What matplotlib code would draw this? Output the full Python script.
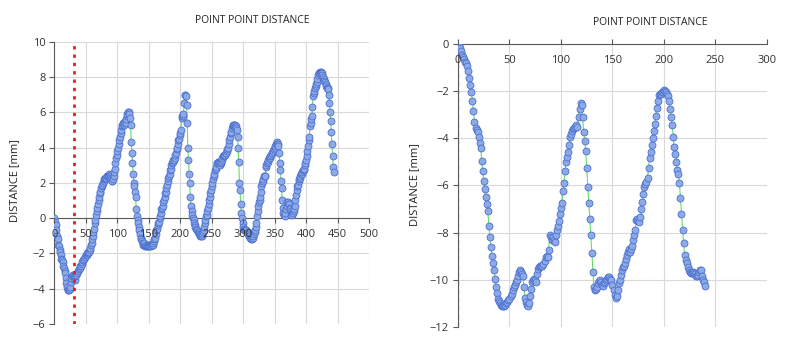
import numpy as np
import matplotlib.pyplot as plt

# dati: un punto per ogni indice
dist_sx = [
    0.0, -0.2, -0.4, -0.7, -1.0, -1.2, -1.5, -1.6, -1.8, -1.9,
    -2.1, -2.3, -2.4, -2.5, -2.7, -2.8, -3.0, -3.1, -3.4, -3.7,
    -3.9, -4.1, -4.1, -4.1, -4.0, -3.9, -3.6, -3.4, -3.3, -3.2,
    -3.2, -3.3, -3.5, -3.3, -3.2, -3.2, -3.1, -3.0, -3.0, -2.9,
    -2.8, -2.7, -2.7, -2.6, -2.5, -2.4, -2.4, -2.3, -2.2, -2.2,
    -2.1, -2.1, -2.0, -2.0, -1.9, -1.9, -1.8, -1.7, -1.5, -1.4,
    -1.2, -1.0, -0.8, -0.6, -0.3, -0.1, 0.2, 0.4, 0.6, 0.8,
    1.0, 1.2, 1.4, 1.5, 1.7, 1.8, 1.9, 2.0, 2.1, 2.2,
    2.2, 2.3, 2.3, 2.4, 2.4, 2.4, 2.5, 2.4, 2.4, 2.3,
    2.2, 2.1, 2.1, 2.2, 2.4, 2.6, 2.8, 3.1, 3.4, 3.6,
    3.8, 4.0, 4.2, 4.4, 4.6, 4.8, 5.0, 5.2, 5.3, 5.4,
    5.3, 5.4, 5.5, 5.4, 5.6, 5.8, 5.9, 6.0, 6.0, 5.9,
    5.7, 5.3, 4.3, 3.7, 3.1, 2.5, 2.0, 1.8, 1.5, 1.2,
    0.5, 0.1, -0.1, -0.3, -0.5, -0.7, -0.9, -1.1, -1.2, -1.3,
    -1.4, -1.5, -1.5, -1.4, -1.6, -1.6, -1.5, -1.6, -1.5, -1.6,
    -1.5, -1.6, -1.6, -1.5, -1.6, -1.5, -1.5, -1.4, -1.3, -1.2,
    -1.1, -0.9, -0.7, -0.6, -0.4, -0.3, -0.2, 0.0, 0.1, 0.3,
    0.5, 0.6, 0.7, 0.9, 1.0, 1.2, 1.4, 1.5, 1.7, 1.9,
    2.1, 2.3, 2.4, 2.5, 2.7, 2.8, 3.0, 3.1, 3.2, 3.3,
    3.3, 3.4, 3.6, 3.7, 3.9, 4.0, 4.2, 4.4, 4.5, 4.7,
    4.8, 5.0, 5.7, 5.8, 5.8, 5.9, 6.5, 7.0, 7.0, 6.9,
    6.4, 5.4, 4.0, 3.3, 2.5, 2.0, 1.2, 0.7, 0.4, 0.2,
    0.0, -0.1, -0.3, -0.4, -0.5, -0.6, -0.7, -0.7, -0.8, -0.8,
    -0.9, -0.9, -1.0, -1.0, -1.0, -0.9, -0.8, -0.7, -0.5, -0.3,
    -0.1, 0.1, 0.2, 0.4, 0.6, 0.8, 1.0, 1.2, 1.4, 1.6,
    1.8, 2.0, 2.2, 2.4, 2.5, 2.7, 2.8, 2.9, 3.1, 3.1,
    3.2, 3.2, 3.1, 3.0, 3.1, 3.2, 3.3, 3.4, 3.5, 3.5,
    3.6, 3.6, 3.7, 3.7, 3.8, 3.9, 4.0, 4.2, 4.4, 4.6,
    4.8, 4.9, 5.1, 5.2, 5.3, 5.3, 5.3, 5.3, 5.2, 5.1,
    5.0, 4.6, 4.0, 3.2, 2.0, 1.6, 0.8, 0.3, 0.0, -0.3,
    -0.5, -0.6, -0.7, -0.7, -0.7, -0.7, -0.8, -0.8, -0.9, -1.0,
    -1.0, -1.1, -1.1, -1.2, -1.2, -1.1, -1.0, -0.9, -0.8, -0.7,
    -0.5, -0.3, 0.1, 0.4, 0.7, 0.9, 1.0, 1.2, 1.5, 1.8,
    2.0, 2.1, 2.2, 2.4, 2.4, 2.4, 2.9, 3.0, 3.1, 3.2,
    3.3, 3.4, 3.4, 3.5, 3.6, 3.7, 3.7, 3.8, 3.8, 3.9,
    4.0, 4.1, 4.2, 4.3, 4.2, 4.2, 4.1, 3.7, 3.1, 2.7,
    2.1, 1.7, 1.0, 0.6, 0.3, 0.2, 0.1, 0.3, 0.5, 0.7,
    0.9, 0.9, 0.8, 0.8, 0.6, 0.5, 0.4, 0.3, 0.2, 0.3,
    0.4, 0.5, 0.7, 1.0, 1.3, 1.6, 1.8, 1.9, 2.1, 2.2,
    2.3, 2.4, 2.5, 2.5, 2.6, 2.7, 2.7, 2.8, 3.0, 3.1,
    3.3, 3.5, 3.8, 4.1, 4.4, 4.6, 5.2, 5.4, 5.6, 5.8,
    6.3, 6.9, 7.1, 7.2, 7.4, 7.5, 7.6, 7.7, 7.9, 8.1,
    8.2, 8.2, 8.3, 8.3, 8.2, 8.2, 8.1, 8.0, 7.9, 7.8,
    7.7, 7.6, 7.5, 7.4, 7.4, 7.3, 7.0, 6.5, 6.0, 5.5,
    4.9, 4.2, 3.5, 2.9, 2.6,
]

dist_dx = [
    0.0, -0.05, -0.15, -0.3, -0.45, -0.55, -0.65, -0.75, -0.8, -0.95,
    -1.15, -1.45, -1.75, -2.05, -2.4, -2.85, -3.3, -3.55, -3.65, -3.75,
    -3.95, -4.2, -4.4, -4.95, -5.4, -5.8, -6.15, -6.5, -6.8, -7.1,
    -7.7, -8.2, -8.6, -9.0, -9.3, -9.6, -9.95, -10.3, -10.55, -10.8,
    -10.9, -11.0, -11.05, -11.1, -11.1, -11.1, -11.05, -11.0, -10.95, -10.85,
    -10.8, -10.7, -10.6, -10.45, -10.3, -10.2, -10.1, -10.0, -9.85, -9.65,
    -9.6, -9.65, -9.75, -9.85, -10.3, -10.75, -10.95, -11.05, -11.1, -11.0,
    -10.7, -10.4, -10.1, -10.0, -9.95, -10.0, -10.1, -9.75, -9.55, -9.45,
    -9.4, -9.4, -9.4, -9.35, -9.2, -9.05, -9.0, -9.05, -8.75, -8.1,
    -8.2, -8.3, -8.2, -8.3, -8.4, -8.1, -7.9, -7.7, -7.5, -7.2,
    -6.95, -6.75, -6.25, -5.9, -5.4, -5.0, -4.8, -4.6, -4.3, -3.95,
    -3.8, -3.7, -3.6, -3.55, -3.5, -3.45, -3.5, -3.1, -2.75, -2.5,
    -2.6, -3.1, -3.75, -4.1, -4.55, -5.25, -6.05, -6.75, -7.4, -8.1,
    -8.85, -9.65, -10.3, -10.45, -10.4, -10.3, -10.15, -10.05, -10.0, -10.1,
    -10.2, -10.25, -10.15, -10.1, -10.0, -9.95, -9.9, -9.9, -9.95, -10.0,
    -10.2, -10.45, -10.65, -10.75, -10.7, -10.45, -10.15, -10.0, -9.8, -9.6,
    -9.45, -9.4, -9.3, -9.1, -8.95, -8.8, -8.7, -8.8, -8.7, -8.55,
    -8.3, -8.1, -7.9, -7.45, -7.4, -7.5, -7.55, -7.35, -7.0, -6.7,
    -6.35, -6.05, -5.95, -5.85, -5.7, -5.25, -4.85, -4.6, -4.3, -4.0,
    -3.7, -3.4, -3.05, -2.7, -2.4, -2.15, -2.1, -2.1, -2.05, -2.05,
    -1.95, -2.0, -2.05, -2.1, -2.2, -2.4, -2.75, -3.1, -3.45, -3.95,
    -4.35, -4.65, -5.0, -5.35, -5.5, -5.9, -6.55, -7.2, -7.9, -8.45,
    -8.95, -9.15, -9.3, -9.45, -9.6, -9.65, -9.7, -9.7, -9.65, -9.7,
    -9.75, -9.85, -9.85, -9.8, -9.65, -9.6, -9.6, -9.85, -10.0, -10.1,
    -10.25,
]

linea_rossa_sx = 31
linea_rossa_dx = 0
titolo = 'POINT POINT DISTANCE'
etichetta_y = 'DISTANCE [mm]'

plt.rcParams['font.family'] = ['Open Sans', 'DejaVu Sans']

fig = plt.figure(figsize=(7.86, 3.53), dpi=100)
ax1 = fig.add_axes([0.0693, 0.0822, 0.4002, 0.7997])
ax2 = fig.add_axes([0.5827, 0.0737, 0.3931, 0.8017])

col_griglia = '#d9d9d9'
col_assi = '#595959'


def disegna(ax, y, xlim, ylim, xstep, ystep, tick_su):
    x = np.arange(len(y))
    ax.plot(x, y, '-', color='#66dd66', lw=0.8, zorder=2)
    ax.plot(x, y, 'o', ms=5, mfc='#8eaae6', mec='#4a6fcf', mew=0.6, zorder=3)
    ax.set_xlim(*xlim)
    ax.set_ylim(*ylim)
    xt = np.arange(xlim[0], xlim[1] + 1, xstep)
    yt = np.arange(ylim[0], ylim[1] + 1, ystep)
    ax.set_xticks(xt)
    ax.set_yticks(yt)
    # griglia sotto i punti, etichette sopra
    for v in xt:
        ax.axvline(v, color=col_griglia, lw=0.8, zorder=0)
    for v in yt:
        ax.axhline(v, color=col_griglia, lw=0.8, zorder=0)
    ax.xaxis.set_zorder(5)
    ax.yaxis.set_zorder(5)
    for s in ['top', 'right']:
        ax.spines[s].set_visible(False)
    ax.spines['bottom'].set_position(('data', 0))
    ax.spines['bottom'].set_color(col_assi)
    ax.spines['left'].set_color(col_assi)
    ax.tick_params(axis='y', length=3.5, width=0.8, color=col_assi, pad=3,
                   labelsize=8, labelcolor='#333333')
    ax.tick_params(axis='x', length=3.5, width=0.8, color=col_assi,
                   direction='in' if tick_su else 'out', pad=8 if tick_su else 4,
                   labelsize=8, labelcolor='#333333')


disegna(ax1, dist_sx, (0, 500), (-6, 10), 50, 2, False)
ax1.axvline(linea_rossa_sx, color='#e02222', lw=2, ls=(0, (1.2, 1.8)), zorder=4)

disegna(ax2, dist_dx, (0, 300), (-12, 0), 50, 2, True)
ax2.axvline(linea_rossa_dx, color='#e04444', lw=1, ls=(0, (3, 3)), alpha=0.6, zorder=1)

fig.text(0.3206, 0.943, titolo, ha='center', va='center', fontsize=7.5, color='#222222')
fig.text(0.827, 0.936, titolo, ha='center', va='center', fontsize=7.5, color='#222222')
fig.text(0.019, 0.49, etichetta_y, rotation=90, ha='center', va='center', fontsize=8, color='#222222')
fig.text(0.527, 0.476, etichetta_y, rotation=90, ha='center', va='center', fontsize=8, color='#222222')

fig.savefig('out.png', dpi=100)
